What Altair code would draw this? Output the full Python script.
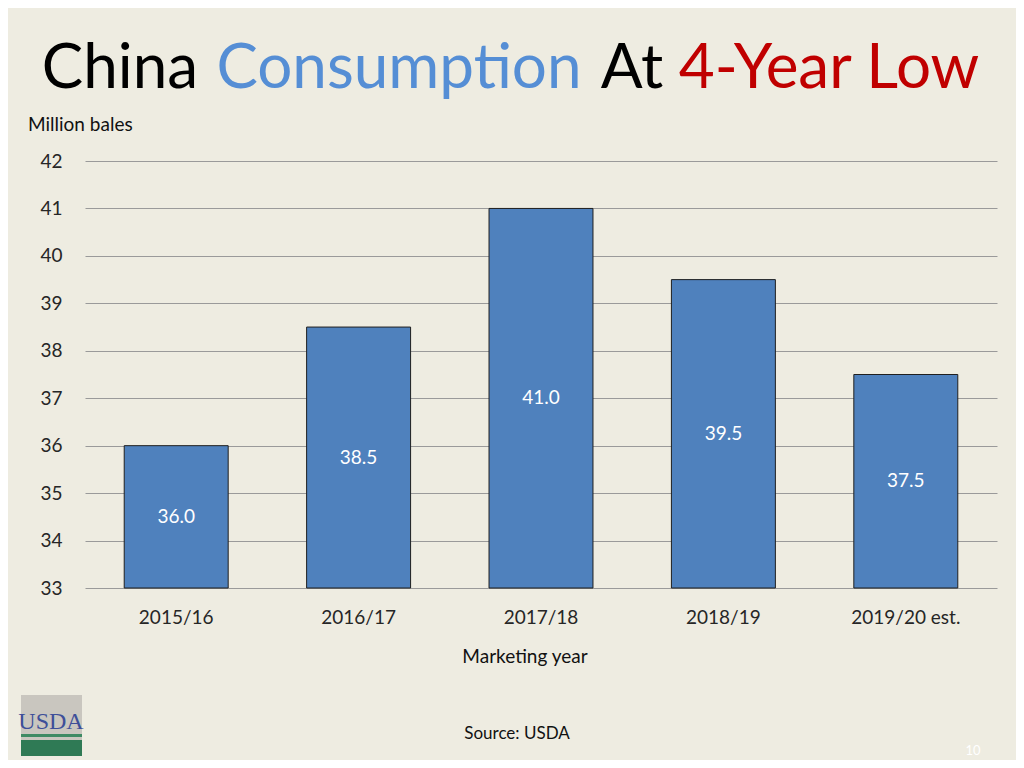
import altair as alt
import pandas as pd

years = ["2015/16", "2016/17", "2017/18", "2018/19", "2019/20 est."]
values = [36.0, 38.5, 41.0, 39.5, 37.5]
y_ticks = [33, 34, 35, 36, 37, 38, 39, 40, 41, 42]
base_value = 33

W, H = 912, 427
FONT = "Lato"
BG = "#EEECE1"

df = pd.DataFrame({"year": years, "value": values})
df["base"] = base_value
df["mid"] = (df["value"] + df["base"]) / 2
df["label"] = [f"{v:.1f}" for v in values]

xs = alt.Scale(domain=years, paddingInner=0.43, paddingOuter=0.215)
ys = alt.Scale(domain=[33, 42], nice=False, zero=False)

bars = alt.Chart(df).mark_bar(color="#4F81BD", stroke="#1F1F1F", strokeWidth=1).encode(
    x=alt.X("year:N", scale=xs, sort=years,
            axis=alt.Axis(title=None, labelAngle=0, ticks=False, domain=False,
                          labelPadding=20, labelFontSize=19, labelFont=FONT,
                          labelColor="#262626")),
    y=alt.Y("value:Q", scale=ys,
            axis=alt.Axis(title=None, values=y_ticks, ticks=False, domain=False,
                          labelPadding=23, labelFontSize=19, labelFont=FONT,
                          labelColor="#262626", grid=True, gridColor="#9A9A9A",
                          gridWidth=1)),
    y2="base:Q",
)

labels = alt.Chart(df).mark_text(color="white", fontSize=19, font=FONT).encode(
    x=alt.X("year:N", scale=xs, sort=years),
    y=alt.Y("mid:Q", scale=ys),
    text="label:N",
)

title_words = pd.DataFrame({
    "word": ["China", "Consumption", "At", "4-Year Low"],
    "cx": [120 - 85, 399 - 85, 632 - 85, 829 - 85],
    "color": ["#000000", "#558ED5", "#000000", "#C00000"],
})
title = alt.Chart(title_words).mark_text(fontSize=62, font=FONT, baseline="alphabetic",
                                         align="center").encode(
    x=alt.X("cx:Q", scale=None),
    y=alt.value(88 - 161),
    text="word:N",
    color=alt.Color("color:N", scale=None),
)

def note(text, x, y, size, color="#111111", align="left", baseline="middle", font=FONT):
    d = pd.DataFrame({"t": [text]})
    return alt.Chart(d).mark_text(fontSize=size, font=font, align=align,
                                  baseline=baseline, color=color).encode(
        x=alt.value(x), y=alt.value(y), text="t:N")

unit = note("Million bales", 28 - 85, 125 - 161, 19)
xtitle = note("Marketing year", 525 - 85, 657 - 161, 19, align="center")
source = note("Source: USDA", 517 - 85, 734 - 161, 17, align="center")
page = note("10", 973 - 85, 751 - 161, 13, color="#FFFFFF", align="center")

logo_df = pd.DataFrame({"a": [0]})
logo_bg = alt.Chart(logo_df).mark_rect(color="#C9C6BF").encode(
    x=alt.value(21 - 85), x2=alt.value(82 - 85), y=alt.value(695 - 161), y2=alt.value(756 - 161))
logo_green = alt.Chart(logo_df).mark_rect(color="#2F7A55").encode(
    x=alt.value(21 - 85), x2=alt.value(82 - 85), y=alt.value(740 - 161), y2=alt.value(756 - 161))
logo_stripe = alt.Chart(logo_df).mark_rect(color="#3E8A64").encode(
    x=alt.value(21 - 85), x2=alt.value(82 - 85), y=alt.value(734 - 161), y2=alt.value(737 - 161))
logo_text = note("USDA", 51 - 85, 722 - 161, 24, color="#3E4F99", align="center",
                 font="Liberation Serif")

chart = alt.layer(logo_bg, logo_green, logo_stripe, bars, labels, title, unit, xtitle,
                  source, page, logo_text).properties(
    width=W, height=H,
    background=BG,
    autosize=alt.AutoSizeParams(type="none"),
    padding={"left": 77, "top": 153, "right": 19, "bottom": 172},
).configure_view(stroke=None)

chart.save("out.html", embed_options={"renderer": "svg", "actions": False})
